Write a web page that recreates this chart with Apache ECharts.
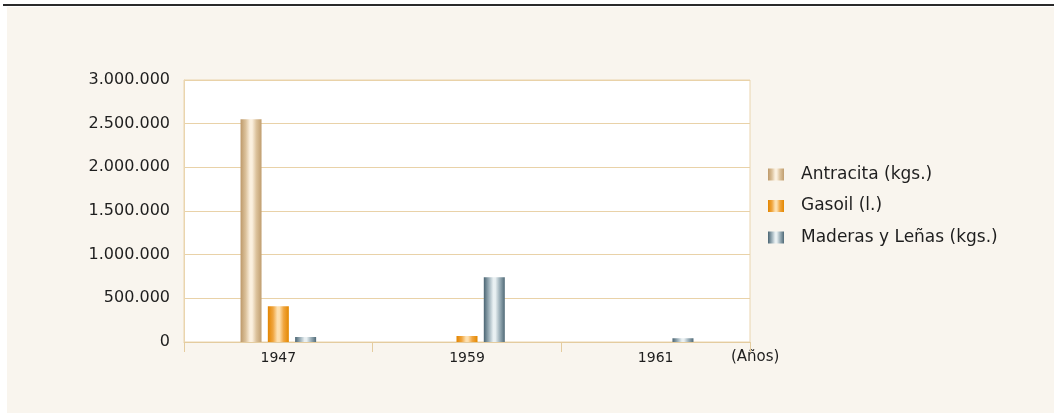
<!DOCTYPE html>
<html>
<head>
<meta charset="utf-8">
<script src="https://cdn.jsdelivr.net/npm/echarts@6/dist/echarts.min.js"></script>
<style>
  html, body { margin: 0; padding: 0; background: #ffffff; }
  #topline { position: absolute; left: 3px; top: 4px; width: 1051px; height: 2px; background: #2a2a2a; }
  #panel { position: absolute; left: 7px; top: 7px; width: 1047px; height: 406px; background: #f9f5ee; }
  #chart { position: absolute; left: 0; top: 0; width: 1054px; height: 413px; }
</style>
</head>
<body>
<div id="topline"></div>
<div id="panel"></div>
<div id="chart"></div>
<script>
var years = ['1947', '1959', '1961'];
var antracita = [2550000, 0, 0];
var gasoil = [410000, 68000, 0];
var maderas = [57000, 740000, 42000];
var yTicks = [0, 500000, 1000000, 1500000, 2000000, 2500000, 3000000];

var font = '"DejaVu Sans", Arial, sans-serif';

function stripe(edge, mid, light, edge2) {
	return new echarts.graphic.LinearGradient(0, 0, 1, 0, [
		{offset: 0, color: edge},
		{offset: 0.25, color: mid},
		{offset: 0.45, color: light},
		{offset: 0.55, color: light},
		{offset: 0.75, color: mid},
		{offset: 1, color: edge2}
	]);
}

function fmt(v) {
	return String(v).replace(/\B(?=(\d{3})+(?!\d))/g, '.');
}

var myChart = echarts.init(document.getElementById('chart'));
var option = {
	backgroundColor: 'transparent',
	textStyle: { fontFamily: font },
	grid: {
		left: 184, right: 304, top: 80, bottom: 71,
		show: true,
		backgroundColor: '#ffffff',
		borderColor: '#ead5ae',
		borderWidth: 1
	},
	legend: {
		orient: 'vertical',
		left: 768,
		top: 166,
		padding: 0,
		icon: 'rect',
		itemWidth: 16,
		itemHeight: 12,
		itemGap: 14.5,
		textStyle: { fontSize: 17, color: '#1e1e1e', fontFamily: font, padding: [0, 0, 0, 12] },
		data: ['Antracita (kgs.)', 'Gasoil (l.)', 'Maderas y Leñas (kgs.)']
	},
	xAxis: {
		type: 'category',
		data: years,
		axisLine: { lineStyle: { color: '#e4cc9f' } },
		axisTick: { show: true, length: 10, lineStyle: { color: '#e4cc9f' } },
		axisLabel: { fontSize: 14, color: '#1e1e1e', margin: 9 }
	},
	yAxis: {
		type: 'value',
		min: yTicks[0],
		max: yTicks[yTicks.length - 1],
		interval: 500000,
		axisLine: { show: true, lineStyle: { color: '#ead5ae' } },
		axisTick: { show: false },
		splitLine: { lineStyle: { color: '#e9d2a8', width: 1 } },
		axisLabel: { fontSize: 16, color: '#1e1e1e', margin: 14, formatter: fmt }
	},
	graphic: [{
		type: 'text',
		left: 731,
		top: 350,
		style: { text: '(Años)', fontSize: 15, fill: '#1e1e1e', fontFamily: font }
	}],
	series: [
		{
			name: 'Antracita (kgs.)', type: 'bar', data: antracita,
			barWidth: 21, barGap: '30%',
			itemStyle: { color: stripe('#bd996a', '#dcc29c', '#fbf0df', '#c09e6f') }
		},
		{
			name: 'Gasoil (l.)', type: 'bar', data: gasoil,
			barWidth: 21, barGap: '30%',
			itemStyle: { color: stripe('#e38500', '#f0a640', '#fde0b0', '#e48800') }
		},
		{
			name: 'Maderas y Leñas (kgs.)', type: 'bar', data: maderas,
			barWidth: 21, barGap: '30%',
			itemStyle: { color: stripe('#4a6472', '#9fb2bb', '#e9f0f2', '#506a77') }
		}
	]
};
myChart.setOption(option);
window.addEventListener('resize', function () {
	myChart.resize();
});
</script>
</body>
</html>
